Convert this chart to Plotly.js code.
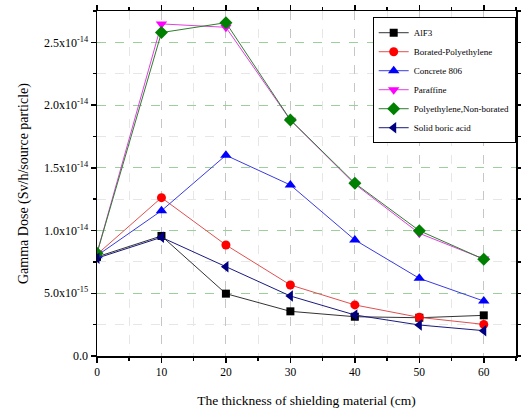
<!DOCTYPE html>
<html>
<head>
<meta charset="utf-8">
<script src="https://cdn.plot.ly/plotly-3.0.1.min.js"></script>
<style>html,body{margin:0;padding:0;background:#fff}#chart{width:521px;height:414px}</style>
</head>
<body>
<div id="chart"></div>
<script>
const thickness = [0, 10, 20, 30, 40, 50, 60];
const seriesNames = ["AlF3", "Borated-Polyethylene", "Concrete 806", "Paraffine", "Polyethylene,Non-borated", "Solid boric acid"];
const alf3 = [7.9e-15, 9.57e-15, 4.97e-15, 3.56e-15, 3.13e-15, 3.05e-15, 3.24e-15];
const boratedPE = [8.1e-15, 1.262e-14, 8.85e-15, 5.66e-15, 4.07e-15, 3.08e-15, 2.52e-15];
const concrete806 = [8.0e-15, 1.158e-14, 1.60e-14, 1.363e-14, 9.25e-15, 6.19e-15, 4.38e-15];
const paraffine = [8.2e-15, 2.647e-14, 2.62e-14, 1.88e-14, 1.37e-14, 9.78e-15, 7.73e-15];
const polyNonBorated = [8.2e-15, 2.578e-14, 2.657e-14, 1.882e-14, 1.377e-14, 9.99e-15, 7.71e-15];
const solidBoricAcid = [7.8e-15, 9.46e-15, 7.12e-15, 4.78e-15, 3.27e-15, 2.47e-15, 2.02e-15];
const yTickVals = [0, 5e-15, 1e-14, 1.5e-14, 2e-14, 2.5e-14];
const yTickText = ["0.0", "5.0x10<sup>-15</sup>", "1.0x10<sup>-14</sup>", "1.5x10<sup>-14</sup>", "2.0x10<sup>-14</sup>", "2.5x10<sup>-14</sup>"];

const values = [alf3, boratedPE, concrete806, paraffine, polyNonBorated, solidBoricAcid];
const markerColors = ["#000000", "#ff0000", "#0000ff", "#ff00ff", "#008000", "#000080"];
const lineColors = ["#333333", "#e05050", "#3a3ae0", "#e040e0", "#2e7d2e", "#1a1a80"];
const symbols = ["square", "circle", "triangle-up", "triangle-down", "diamond", "triangle-left"];
const sizes = [8, 9, 10, 10, 10, 10];

const traces = seriesNames.map((n, i) => ({
  x: thickness, y: values[i], name: n, type: "scatter", mode: "lines+markers",
  line: {color: lineColors[i], width: 1},
  marker: {color: markerColors[i], symbol: symbols[i], size: sizes[i]}
}));

const layout = {
  width: 521, height: 414,
  margin: {l: 97, r: 5, t: 11, b: 58},
  paper_bgcolor: "#fff", plot_bgcolor: "#fff",
  font: {family: "Liberation Serif, Times New Roman, serif", color: "#000", size: 11},
  showlegend: true,
  legend: {x: 0.658, y: 0.982, xanchor: "left", yanchor: "top", bgcolor: "#fff",
    bordercolor: "#000", borderwidth: 1, font: {size: 9, family: "Liberation Serif, serif"},
    tracegroupgap: 0},
  xaxis: {
    range: [0, 65], tickvals: [0, 10, 20, 30, 40, 50, 60], ticktext: ["0","10","20","30","40","50","60"],
    ticks: "outside", ticklen: 5, tickwidth: 1.5, tickcolor: "#000",
    showline: true, linecolor: "#000", linewidth: 1.5, mirror: "ticks",
    showgrid: true, gridcolor: "#b8b8b8", griddash: "dash", gridwidth: 0.7,
    minor: {dtick: 5, tick0: 5, ticks: "outside", ticklen: 3, tickcolor: "#000", showgrid: true, gridcolor: "#e6e6e6", gridwidth: 1},
    zeroline: false,
    tickfont: {size: 11.5},
    title: {text: "The thickness of shielding material (cm)", font: {size: 13.5}, standoff: 18}
  },
  yaxis: {
    range: [0, 2.75e-14], tickvals: yTickVals, ticktext: yTickText,
    ticks: "outside", ticklen: 5, tickwidth: 1.5, tickcolor: "#000",
    showline: true, linecolor: "#000", linewidth: 1.5, mirror: "ticks",
    showgrid: true, gridcolor: "#9ccf9c", griddash: "dash", gridwidth: 1,
    minor: {dtick: 2.5e-15, tick0: 0, ticks: "outside", ticklen: 3, tickcolor: "#000", showgrid: true, gridcolor: "#e6e6e6", gridwidth: 1},
    zeroline: false,
    tickfont: {size: 12},
    title: {text: "Gamma Dose (Sv/h/source particle)", font: {size: 14}, standoff: 12}
  }
};

Plotly.newPlot("chart", traces, layout, {displayModeBar: false, staticPlot: true});
</script>
</body>
</html>
